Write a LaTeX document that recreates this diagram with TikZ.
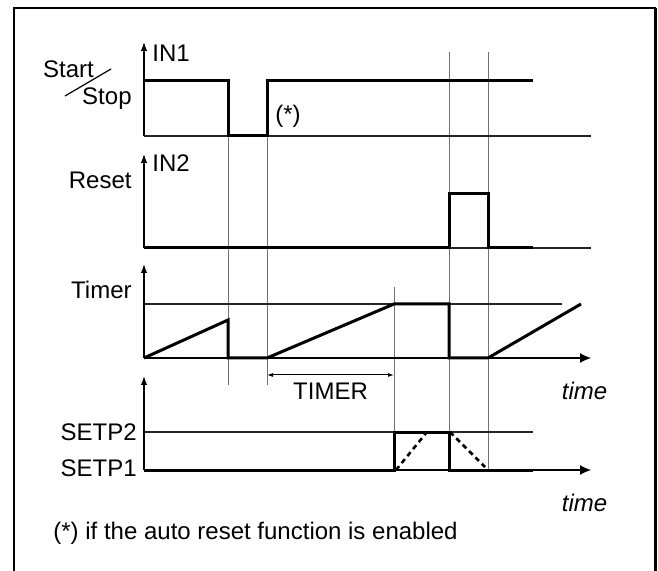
\documentclass[tikz,border=0pt]{standalone}
\usepackage{fontspec}
\setmainfont{Liberation Sans}
\usetikzlibrary{arrows.meta}

\tikzset{
	sig/.style={line width=1.5pt, line join=miter},
	gridline/.style={line width=0.5pt, black!55},
	base/.style={line width=0.6pt, black!85},
	yaxis/.style={line width=0.6pt, -{Latex[length=4.5pt,width=3.2pt]}},
	taxis/.style={line width=0.6pt, -{Latex[length=5.5pt,width=5pt]}},
	lbl/.style={inner sep=0pt, font=\fontsize{12}{14}\selectfont},
}

\begin{document}
\begin{tikzpicture}[x=0.5pt, y=-0.5pt]
			\useasboundingbox (0,0) rectangle (658,571);
			\draw[line width=1pt] (14,571) -- (14,8.5) -- (655.5,8.5);
			\draw[line width=1.5pt] (655.5,8.5) -- (655.5,571);
			% grid
			\draw[gridline] (228,136) -- (228,385);
			\draw[gridline] (267,136) -- (267,385);
			\draw[gridline] (394,287) -- (394,470);
			\draw[gridline] (449,52) -- (449,470);
			\draw[gridline] (488,52) -- (488,470);
			\draw[base] (144,304) -- (562,304);
			\draw[base] (144,432) -- (533,432);
			% IN1
			\draw[yaxis] (144,136) -- (144,42);
			\draw[base] (144,136) -- (591,136);
			\draw[sig] (144,81) -- (228,81) -- (228,136) -- (267,136) -- (267,81) -- (533,81);
			\node[lbl, anchor=west] (in1) at (152,53) {IN1};
			\node[lbl] (start) at (68.5,69.5) {Start};
			\node[lbl, anchor=east] (stop) at (132,99) {Stop};
			\draw[line width=0.6pt] (65,96) -- (111,69);
			\node[lbl] (note) at (288,116) {(*)};
			% IN2
			\draw[yaxis] (144,248) -- (144,154);
			\draw[base] (144,248) -- (591,248);
			\draw[sig] (144,248) -- (449,248) -- (449,194) -- (488,194) -- (488,248) -- (533,248);
			\node[lbl, anchor=west] (in2) at (152,163) {IN2};
			\node[lbl, anchor=east] (reset) at (132,180.5) {Reset};
			% Timer
			\draw[yaxis] (144,358) -- (144,264);
			\draw[taxis] (144,358) -- (591,358);
			\draw[sig] (144,358) -- (228,320) -- (228,358) -- (267,358) -- (394,304) -- (449,304) -- (449,358) -- (488,358) -- (581,304);
			\node[lbl, anchor=east] (timer) at (132,289.5) {Timer};
			\draw[line width=0.5pt, {Latex[length=3pt,width=2pt]}-{Latex[length=3pt,width=2pt]}] (267,375) -- (394,375);
			\node[lbl] (tlen) at (330.5,391.5) {TIMER};
			\node[lbl] (time1) at (584.5,391) {\itshape time};
			% SETP
			\draw[yaxis] (144,470) -- (144,376);
			\draw[taxis] (144,470) -- (591,470);
			\draw[sig] (144,470) -- (394,470) -- (394,432) -- (449,432) -- (449,470) -- (533,470);
			\draw[line width=1.3pt, dash pattern={on 2.5pt off 2pt}] (396,470) -- (427,432);
			\draw[line width=1.3pt, dash pattern={on 2.5pt off 2pt}] (450,432) -- (485,467);
			\node[lbl, anchor=east] (setp2) at (137,432) {SETP2};
			\node[lbl, anchor=east] (setp1) at (137,468) {SETP1};
			\node[lbl] (time2) at (584.5,502.5) {\itshape time};
			\node[lbl, anchor=west] (foot) at (53,533.5) {(*) if the auto reset function is enabled};
		\end{tikzpicture}
\end{document}
